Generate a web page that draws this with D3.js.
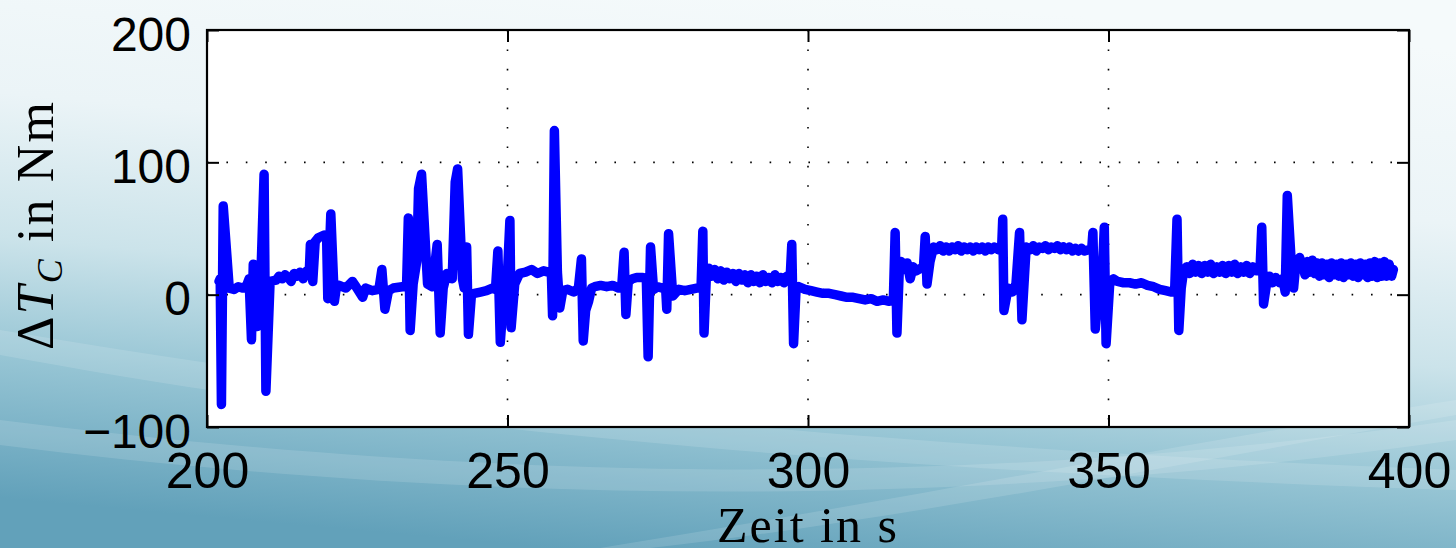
<!DOCTYPE html>
<html><head><meta charset="utf-8">
<script src="https://cdn.jsdelivr.net/npm/d3@7/dist/d3.min.js"></script>
<style>html,body{margin:0;padding:0;overflow:hidden;background:#fff}</style>
</head><body>
<svg id="chart" width="1456" height="548"></svg>
<script>
// ---- data: [time in s, ΔT_C in Nm] ----
const segA = [[202.0,10],[202.2,12],[202.4,-83],[202.7,67],[203.7,5],[204.5,4],[205.2,6],[206.0,5],[206.6,7],[207.0,12],[207.4,-34],[207.7,23],[208.1,-18],[208.4,-24],[208.9,5],[209.5,91],[209.8,-73],[210.5,10],[211.5,11],[212.0,14],[212.5,12],[213.0,15],[213.5,13],[214.0,10],[214.5,16],[215.0,14],[215.5,17],[216.0,12],[216.6,18],[217.0,15],[217.2,38],[217.6,10],[218.0,40],[218.5,43],[219.5,45],[219.9,44],[220.1,-3],[220.6,61],[221.2,-5],[221.5,5],[222.0,7],[223.1,5],[224.2,10],[224.8,6],[225.9,-2],[226.4,5],[227.5,3],[228.6,4],[229.1,19],[229.6,-11],[230.2,3],[231.0,5],[232.5,6],[233.2,6],[233.5,58],[233.8,-27],[234.3,8],[234.9,25],[235.2,80],[235.7,91],[236.7,8],[237.5,6],[238.3,38],[238.8,-29],[239.3,5],[239.9,16]];
const segB = [[240.8,12],[241.3,85],[241.7,95],[242.5,12],[242.8,5],[243.2,36],[243.5,-30],[244.0,0],[244.5,1],[245.5,2],[246.5,3],[247.5,5],[248.0,4],[248.4,33],[248.8,-36],[249.3,-5],[249.8,-3],[250.4,56],[250.6,-25],[251.2,8],[252.0,16],[253,17],[254,19],[255,16],[256,18],[256.8,17],[257.3,16],[257.5,-16],[257.8,124],[258.3,17],[258.7,-10],[259.2,3],[260.0,4],[261.0,2],[261.8,5],[262.3,27],[262.6,-35],[263.0,-12],[263.5,-5],[264.0,5],[264.5,6],[265.5,7],[266.5,6],[267.5,7],[268.5,5],[269.0,6],[269.4,32],[269.7,-15],[270.1,10],[270.8,12],[271.5,13],[272.5,13],[273.1,12],[273.4,-47],[273.8,36],[274.3,4],[275.0,6],[275.8,5],[276.3,6],[276.5,-11],[276.8,46],[277.5,-1],[278.5,4],[279.5,3],[280.5,4],[281.5,5],[282.2,5],[282.5,48],[282.7,-29],[283.1,15]];
const segC = [[283.5,20],[284.0,14],[284.5,19],[285.0,12],[285.5,18],[286.0,11],[286.5,17],[287.0,12],[287.5,16],[288.0,10],[288.5,16],[289.0,11],[289.5,15],[290.0,9],[290.5,15],[291.0,10],[291.5,14],[292.0,9],[292.5,15],[293.0,10],[293.5,13],[294.0,9],[294.5,15],[295.0,10],[295.5,13],[296.0,9],[296.5,14],[297.0,10],[297.3,38],[297.6,-37],[298.0,3],[298.5,6],[299.5,4],[300.5,3],[301.5,2],[302.5,1],[303.5,1],[304.5,0],[305.5,-1],[306.5,-2],[307.5,-2],[308.5,-3],[309.5,-4],[310.5,-3],[311.5,-5],[312.5,-4],[313.5,-5],[314.2,-4],[314.5,47],[314.8,-29],[315.2,20],[315.5,25],[316.0,19],[316.5,24],[317.0,12],[317.5,21],[318.0,18],[318.8,20],[319.2,20],[319.5,44],[319.8,8],[320.3,25],[320.9,36]];
const segD = [[321.5,34],[322,37],[322.5,33],[323,36],[323.5,33],[324,36],[324.5,34],[325,37],[325.5,33],[326,36],[326.5,34],[327,36],[327.5,33],[328,36],[328.5,34],[329,36],[329.5,33],[330,36],[330.5,34],[331,36],[331.7,34],[332.2,33],[332.4,57],[332.6,-12],[333.3,5],[334.0,2],[334.6,8],[335.2,47],[335.6,-19],[336.3,36],[337,34],[337.5,37],[338,33],[338.5,36],[339,35],[339.5,37],[340,34],[340.5,36],[341,35],[341.5,37],[342,34],[342.5,36],[343,34],[343.5,36],[344,33],[344.5,35],[345,33],[345.5,35],[346,33],[346.7,34],[347.2,34],[347.4,47],[347.8,-26],[348.5,8],[349.0,20],[349.3,51],[349.6,-37],[350.2,8],[350.8,12],[351.5,10],[352.5,9],[353.5,9],[354.5,8],[355.5,9],[356.5,7],[357.5,6],[358.5,4],[359.5,3],[360.5,2],[361.0,2]];
const segE = [[361.4,57],[361.7,-27],[362.1,5],[362.5,18],[363,21],[363.5,16],[364,23],[364.5,17],[365,22],[365.5,16],[366,22],[366.5,17],[367,23],[367.5,16],[368,21],[368.5,17],[369,22],[369.5,16],[370,22],[370.5,17],[371,23],[371.5,16],[372,21],[372.5,17],[373,22],[373.5,16],[374,21],[374.6,18],[375.2,18],[375.5,51],[375.8,-7],[376.3,8],[376.8,14],[377.3,9],[377.8,13],[378.5,9],[379.0,12],[379.4,2],[379.75,75],[380.4,25],[380.8,5],[381.2,25],[381.8,28],[382.3,22],[382.7,15],[383.1,25],[383.5,17],[383.9,26],[384.3,16],[384.7,24],[385.1,14],[385.5,24],[385.9,15],[386.3,23],[386.7,13],[387.1,24],[387.5,15],[387.9,23],[388.3,14],[388.7,24],[389.1,13],[389.5,23],[389.9,15],[390.3,24],[390.7,14],[391.1,23],[391.5,13],[391.9,24],[392.3,15],[392.7,23],[393.1,13],[393.5,24],[393.9,14],[394.3,25],[394.7,13],[395.1,24],[395.5,14],[395.9,25],[396.3,14],[396.7,23],[397.1,14],[397.4,19]];
const xTicks = [200, 250, 300, 350, 400];
const yTicks = [-100, 0, 100, 200];
const xGrid = [250, 300, 350];
const yGrid = [0, 100];
const xLabel = "Zeit in s";

const series = segA.concat(segB, segC, segD, segE);

const svg = d3.select("#chart");
const W = 1456, H = 548;
const m = {left: 207, right: 1409, top: 30, bottom: 427};

// background gradient
const defs = svg.append("defs");
const g1 = defs.append("linearGradient").attr("id","bg")
  .attr("x1","0.62").attr("y1","0").attr("x2","0.38").attr("y2","1");
[[0,"#f5fafb"],[0.3,"#ebf4f7"],[0.55,"#cbe3ea"],[0.75,"#98c6d5"],[1,"#62a1ba"]]
  .forEach(([o,c]) => g1.append("stop").attr("offset",o).attr("stop-color",c));
svg.append("rect").attr("width",W).attr("height",H).attr("fill","url(#bg)");
// soft light streaks
const streaks = [
  "M0,330 C300,380 700,440 1456,470 L1456,490 C700,465 300,410 0,355 Z",
  "M0,420 C400,470 900,500 1456,420 L1456,440 C900,520 400,495 0,445 Z",
  "M600,548 C900,500 1200,440 1456,400 L1456,415 C1200,460 900,520 650,548 Z"
];
svg.selectAll("path.streak").data(streaks).enter().append("path")
  .attr("d", d => d).attr("fill","#ffffff").attr("opacity",0.13);

const x = d3.scaleLinear().domain([200,400]).range([m.left, m.right]);
const y = d3.scaleLinear().domain([-100,200]).range([m.bottom, m.top]);

svg.append("rect").attr("x",m.left).attr("y",m.top)
  .attr("width",m.right-m.left).attr("height",m.bottom-m.top).attr("fill","#fff");

// grid
svg.selectAll("line.gx").data(xGrid).enter().append("line")
  .attr("x1",d=>x(d)).attr("x2",d=>x(d)).attr("y1",m.top).attr("y2",m.bottom)
  .attr("stroke","#000").attr("stroke-width",1.6).attr("stroke-dasharray","1.6,17.8");
svg.selectAll("line.gy").data(yGrid).enter().append("line")
  .attr("x1",m.left).attr("x2",m.right).attr("y1",d=>y(d)).attr("y2",d=>y(d))
  .attr("stroke","#000").attr("stroke-width",1.6).attr("stroke-dasharray","1.6,17.8");

// data line
const line = d3.line().x(d=>x(d[0])).y(d=>y(d[1]));
svg.append("path").datum(series).attr("d",line)
  .attr("fill","none").attr("stroke","#0000ff").attr("stroke-width",9.5)
  .attr("stroke-linejoin","round").attr("stroke-linecap","round");

// axes
const tickLen = 12;
const fmt = d => d < 0 ? "\u2212" + Math.abs(d) : String(d);
const gx = svg.append("g").attr("transform",`translate(0,${m.bottom})`)
  .call(d3.axisBottom(x).tickValues(xTicks).tickSize(-tickLen).tickPadding(0).tickFormat(fmt));
gx.selectAll("text").attr("y",61).attr("dy",0)
  .attr("font-family","'Liberation Sans', Arial, sans-serif").attr("font-size",50).attr("fill","#000");
const gy = svg.append("g").attr("transform",`translate(${m.left},0)`)
  .call(d3.axisLeft(y).tickValues(yTicks).tickSize(-tickLen).tickPadding(16).tickFormat(fmt));
gy.selectAll("text").attr("dy",20)
  .attr("font-family","'Liberation Sans', Arial, sans-serif").attr("font-size",48).attr("fill","#000");
svg.append("g").attr("transform",`translate(0,${m.top})`)
  .call(d3.axisTop(x).tickValues(xTicks).tickSize(-tickLen).tickFormat(""));
svg.append("g").attr("transform",`translate(${m.right},0)`)
  .call(d3.axisRight(y).tickValues(yTicks).tickSize(-tickLen).tickFormat(""));
svg.selectAll(".domain").remove();
svg.selectAll(".tick line").attr("stroke","#000").attr("stroke-width",2);
svg.append("rect").attr("x",m.left).attr("y",m.top)
  .attr("width",m.right-m.left).attr("height",m.bottom-m.top)
  .attr("fill","none").attr("stroke","#000").attr("stroke-width",2.2);

// axis titles
svg.append("text").attr("x",(m.left+m.right)/2 - 1).attr("y",542)
  .attr("text-anchor","middle").attr("font-family","'Liberation Serif','Times New Roman',serif")
  .attr("font-size",50).attr("textLength",180).attr("lengthAdjust","spacing").text(xLabel);

const yl = svg.append("text").attr("transform","translate(53,226) rotate(-90)")
  .attr("text-anchor","middle").attr("font-family","'Liberation Serif','Times New Roman',serif")
  .attr("font-size",52).attr("textLength",248).attr("lengthAdjust","spacing");
yl.append("tspan").text("\u0394");
yl.append("tspan").attr("font-style","italic").text("T");
yl.append("tspan").attr("font-style","italic").attr("font-size",36).attr("dy",9).text("C");
yl.append("tspan").attr("dy",-9).text(" in Nm");
</script>
</body></html>
